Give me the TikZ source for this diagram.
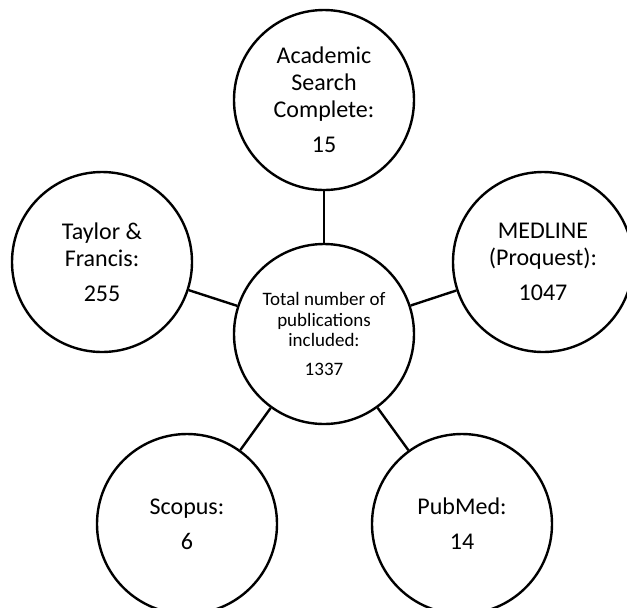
\documentclass[tikz,border=0pt]{standalone}
\usepackage{fontspec}
\setmainfont{Carlito}
\usetikzlibrary{positioning}
\tikzset{x=0.5pt, y=-0.5pt, % one unit is one pixel of the figure, y runs downwards
database/.style={ % Sets the properties for each database circle
circle,
draw,
line width=1.2pt,
minimum size=90pt,
inner sep=0pt,
align=center,
font=\fontsize{12}{13.5}\selectfont},
total/.style={ % The circle in the middle
database,
font=\fontsize{9.5}{10.25}\selectfont},
every edge/.style={ % Sets the properties for each connector
draw,
line width=1.2pt}}

\begin{document}
\begin{tikzpicture}
				\useasboundingbox (0,0) rectangle (627,607);
				\clip (0,0) rectangle (627,607);

				\node[total] (tot) at (324,334) {Total number of\\publications\\included:\\[4pt]1337};
				\node[database] (acs) at (324,100) {Academic\\Search\\Complete:\\[4pt]15};
				\node[database] (tf) at (102,262) {Taylor \&\\Francis:\\[4pt]255};
				\node[database] (med) at (543,262) {MEDLINE\\(Proquest):\\[4pt]1047};
				\node[database] (sco) at (187,524) {Scopus:\\[4pt]6};
				\node[database] (pub) at (462,524) {PubMed:\\[4pt]14};

				\draw (tot) edge (acs);
				\draw (tot) edge (tf);
				\draw (tot) edge (med);
				\draw (tot) edge (sco);
				\draw (tot) edge (pub);
\end{tikzpicture}
\end{document}
